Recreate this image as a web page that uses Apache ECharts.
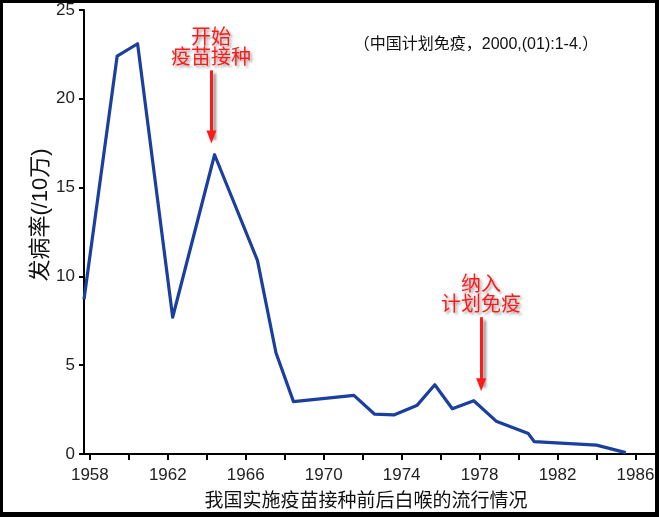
<!DOCTYPE html>
<html>
<head>
<meta charset="utf-8">
<script src="https://cdn.jsdelivr.net/npm/echarts@6/dist/echarts.min.js"></script>
<style>
html,body{margin:0;padding:0;background:#fff;}
#wrap{position:relative;width:659px;height:517px;overflow:hidden;}
#chart{position:absolute;left:0;top:0;width:659px;height:517px;}
#frame{position:absolute;left:0;top:0;width:659px;height:517px;box-sizing:border-box;
border-style:solid;border-color:#000;border-width:3px 4px 5px 3px;pointer-events:none;}
</style>
</head>
<body>
<div id="wrap"><div id="chart"></div><div id="frame"></div></div>
<script>
// Data
const years = [1957.7, 1959.4, 1960.45, 1962.25, 1964.4, 1966.6, 1967.55, 1968.45, 1971.55, 1972.6, 1973.6, 1974.8, 1975.7, 1976.6, 1977.7, 1978.85, 1980.5, 1980.8, 1984.0, 1985.5];
const rates = [8.7, 22.4, 23.1, 7.7, 16.85, 10.9, 5.7, 2.95, 3.3, 2.25, 2.2, 2.75, 3.9, 2.55, 3.0, 1.85, 1.15, 0.7, 0.5, 0.08];
const xTickValues = [1958,1960,1962,1964,1966,1968,1970,1972,1974,1976,1978,1980,1982,1984,1986];
const xLabelValues = [1958,1962,1966,1970,1974,1978,1982,1986];
const yTicks = [0,5,10,15,20,25];
const arrow1 = {x: 1964.24, from: 21.6, to: 17.85, text: '开始\n疫苗接种'};
const arrow2 = {x: 1978.08, from: 7.7, to: 3.9, text: '纳入\n计划免疫'};
const yName = '发病率(/10万)';
const xName = '我国实施疫苗接种前后白喉的流行情况';
const citation = '（中国计划免疫，2000,(01):1-4.）';

const chart = echarts.init(document.getElementById('chart'), null, {renderer:'canvas'});
const red = '#ff1a1a';
const shadow = {shadowColor:'rgba(0,0,0,0.45)', shadowBlur:3, shadowOffsetX:3, shadowOffsetY:3};
const fontMix = '"Liberation Sans", "Noto Sans CJK SC", sans-serif';
const fontCJK = '"Noto Sans CJK SC", sans-serif';

const option = {
  animation:false,
  grid:{left:84, top:10, right:4, bottom:63, containLabel:false},
  xAxis:{
    type:'value', min:1957.7, max:1987,
    axisLine:{show:true, onZero:false, lineStyle:{color:'#000', width:2}},
    axisTick:{show:true, customValues:xTickValues, length:6, lineStyle:{color:'#000', width:2}},
    axisLabel:{customValues:xLabelValues, formatter:v=>String(v), color:'#222', fontSize:17, fontFamily:'"Liberation Sans", Arial, sans-serif', margin:13},
    splitLine:{show:false}
  },
  yAxis:{
    type:'value', min:0, max:25, interval:5,
    axisLine:{show:true, lineStyle:{color:'#000', width:2}},
    axisTick:{show:true, length:5, lineStyle:{color:'#000', width:2}},
    axisLabel:{formatter:v=>String(v), color:'#222', fontSize:17, fontFamily:'"Liberation Sans", Arial, sans-serif', margin:9},
    splitLine:{show:false}
  },
  series:[
    {
      type:'line', data: years.map((y,i)=>[y, rates[i]]),
      symbol:'none', clip:true,
      lineStyle:{color:'#1b3f9e', width:3.2, join:'round'}
    },
    {
      type:'line', data:[], silent:true,
      markLine:{
        silent:true, animation:false,
        symbol:['none','triangle'], symbolSize:[10,13], symbolRotate:180,
        label:{show:false},
        lineStyle:{color:red, width:3, type:'solid', ...shadow},
        itemStyle:{color:red},
        emphasis:{disabled:true},
        data:[
          [{coord:[arrow1.x, arrow1.from]}, {coord:[arrow1.x, arrow1.to]}],
          [{coord:[arrow2.x, arrow2.from]}, {coord:[arrow2.x, arrow2.to]}]
        ]
      }
    }
  ],
  graphic:[
    {type:'text', x:41, y:215, rotation:Math.PI/2, style:{text:yName, fill:'#111', font:'22px '+fontMix, align:'center', verticalAlign:'middle'}},
    {type:'text', x:366, y:500, style:{text:xName, fill:'#111', font:'19px '+fontCJK, align:'center', verticalAlign:'middle'}},
    {type:'text', x:476, y:45, style:{text:citation, fill:'#111', font:'16px '+fontMix, align:'center', verticalAlign:'middle'}},
    {type:'text', x:211, y:46, style:{text:arrow1.text, fill:red, font:'20px '+fontCJK, lineHeight:20, align:'center', verticalAlign:'middle', textShadowColor:'rgba(0,0,0,0.4)', textShadowBlur:3, textShadowOffsetX:2, textShadowOffsetY:2}},
    {type:'text', x:481, y:293, style:{text:arrow2.text, fill:red, font:'20px '+fontCJK, lineHeight:20, align:'center', verticalAlign:'middle', textShadowColor:'rgba(0,0,0,0.4)', textShadowBlur:3, textShadowOffsetX:2, textShadowOffsetY:2}}
  ]
};
chart.setOption(option);
</script>
</body>
</html>
